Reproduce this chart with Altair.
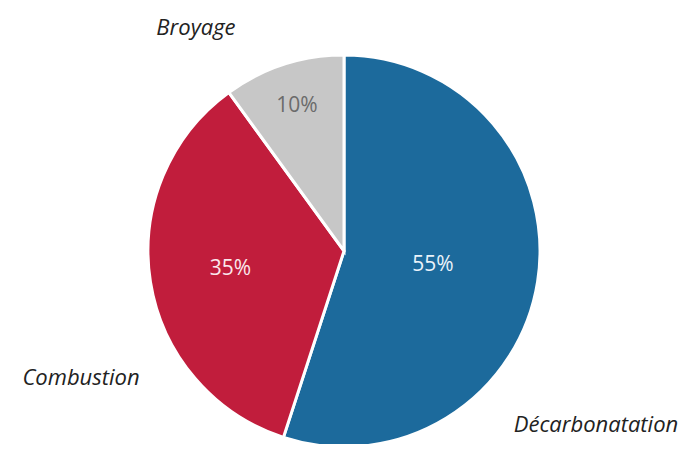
import altair as alt
import pandas as pd

categories = ["Décarbonatation", "Combustion", "Broyage"]
values = [55, 35, 10]
order = [0, 1, 2]
pct_labels = ["55%", "35%", "10%"]
colors = ["#1C6A9C", "#C11D3C", "#C7C7C7"]

df = pd.DataFrame({"cat": categories, "value": values, "order": order, "pct": pct_labels})

CX, CY = 336, 243
R = 196

base = alt.Chart(df).transform_stack(
    stack="value", groupby=[], as_=["v0", "v1"], sort=[alt.SortField("order")]
).transform_calculate(mid="(datum.v0 + datum.v1) / 2")

theta_scale = alt.Scale(domain=[0, 100])

pie = base.mark_arc(outerRadius=R, stroke="white", strokeWidth=3).encode(
    theta=alt.Theta("v0:Q", scale=theta_scale),
    theta2="v1:Q",
    color=alt.Color("cat:N", scale=alt.Scale(domain=categories, range=colors), legend=None),
    x=alt.value(CX),
    y=alt.value(CY),
)

def inner(cat, radius, color):
    return base.transform_filter(alt.datum.cat == cat).mark_text(
        radius=radius, font="Open Sans", fontSize=21, color=color, align="center", baseline="middle"
    ).encode(
        theta=alt.Theta("mid:Q", scale=theta_scale),
        text="pct:N",
        x=alt.value(CX),
        y=alt.value(CY),
    )

def outer(cat, theta, radius):
    return alt.Chart(df).transform_filter(alt.datum.cat == cat).mark_text(
        theta=theta, radius=radius, font="Open Sans", fontStyle="italic", fontSize=22,
        color="#222222", align="center", baseline="middle"
    ).encode(text="cat:N", x=alt.value(CX), y=alt.value(CY))

chart = alt.layer(
    pie,
    inner("Décarbonatation", 90, "#EAF3FA"),
    inner("Combustion", 115, "#FBE7EC"),
    inner("Broyage", 152, "#6B6B6B"),
    outer("Broyage", 5.697, 267.6),
    outer("Combustion", 4.263, 292),
    outer("Décarbonatation", 2.175, 306.2),
).resolve_scale(theta="shared").properties(
    width=680, height=436, autosize=alt.AutoSizeParams(type="none"), padding=0
).configure_view(stroke=None)

chart.save("out.html", embed_options={"renderer": "svg", "actions": False})
